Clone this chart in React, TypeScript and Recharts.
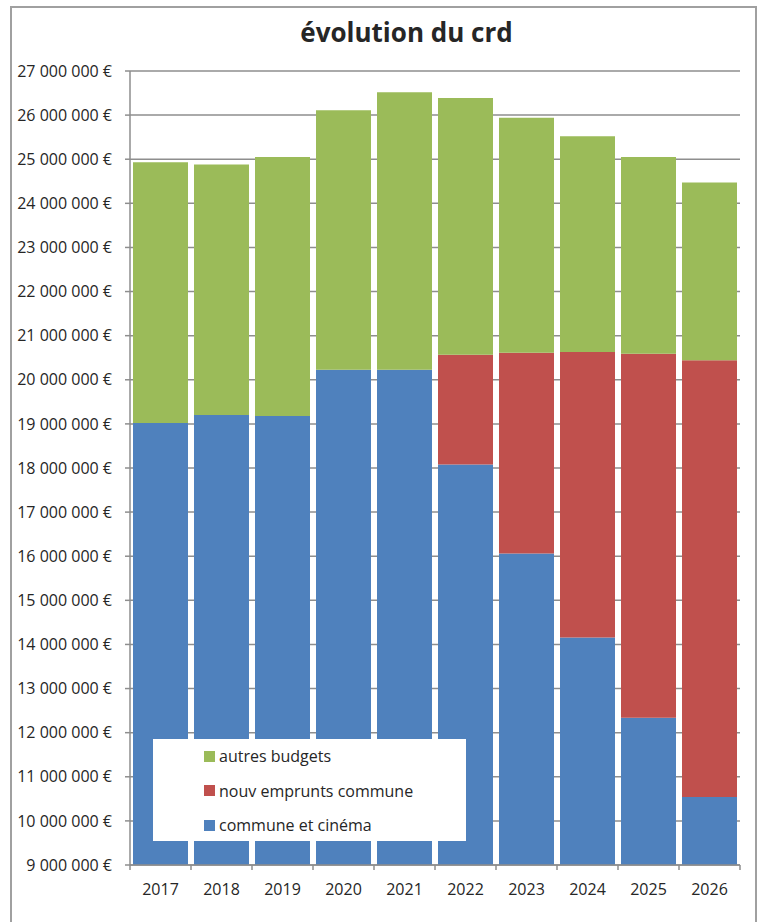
import { Bar, BarChart, CartesianGrid, Legend, XAxis, YAxis } from 'recharts'

// outstanding debt per year, stacked by budget (euros)
const years = ['2017', '2018', '2019', '2020', '2021', '2022', '2023', '2024', '2025', '2026']
const communeCinema = [19020000, 19200000, 19180000, 20230000, 20230000, 18080000, 16060000, 14160000, 12340000, 10540000]
const nouvEmprunts = [0, 0, 0, 0, 0, 2490000, 4550000, 6470000, 8250000, 9900000]
const autresBudgets = [5910000, 5680000, 5870000, 5880000, 6290000, 5820000, 5330000, 4890000, 4460000, 4030000]
const yTicks = [
	9000000, 10000000, 11000000, 12000000, 13000000, 14000000, 15000000, 16000000, 17000000,
	18000000, 19000000, 20000000, 21000000, 22000000, 23000000, 24000000, 25000000, 26000000, 27000000
]
// legend reads top-down from the last stacked series
const legendOrder = ['autres budgets', 'nouv emprunts commune', 'commune et cinéma']

const data = years.map((year, i) => ({
	year,
	commune: communeCinema[i],
	nouv: nouvEmprunts[i],
	autres: autresBudgets[i]
}))

const GRID = '#8e8e8e'
const TEXT = '#262626'
const FONT = '"Open Sans", sans-serif'

const euro = (v: number) => String(v).replace(/\B(?=(\d{3})+(?!\d))/g, ' ') + ' €'

function YearTick(props: any) {
	const { x, y, payload, index, width, visibleTicksCount } = props
	const band = width / visibleTicksCount
	return (
		<g>
			<line x1={x - band / 2} x2={x - band / 2} y1={y} y2={y + 5} stroke={GRID} strokeWidth={1.5} />
			{index === visibleTicksCount - 1 && (
				<line x1={x + band / 2} x2={x + band / 2} y1={y} y2={y + 5} stroke={GRID} strokeWidth={1.5} />
			)}
			<text x={x} y={y + 30} textAnchor='middle' fill={TEXT} fontSize={16} fontFamily={FONT}>
				{payload.value}
			</text>
		</g>
	)
}

function LegendBox({ payload }: any) {
	const items = legendOrder
		.map(name => (payload || []).find((p: any) => p.value === name))
		.filter(Boolean)
	return (
		<div style={{ width: '100%', height: '100%', background: '#fff', paddingLeft: 51, boxSizing: 'border-box' }}>
			{items.map((item: any) => (
				<div key={item.value} style={{ height: 34.5, display: 'flex', alignItems: 'center', marginTop: -1, marginBottom: 1 }}>
					<span style={{ width: 11, height: 11, background: item.color, marginRight: 4, display: 'inline-block' }} />
					<span style={{ fontFamily: FONT, fontSize: 16, color: TEXT }}>{item.value}</span>
				</div>
			))}
		</div>
	)
}

export default function App() {
	return (
		<div style={{ position: 'fixed', left: 0, top: 0, width: 761, height: 922, overflow: 'hidden', background: '#fff' }}>
			<div
				style={{
					position: 'absolute',
					left: 0,
					top: 15,
					width: 813,
					textAlign: 'center',
					fontFamily: FONT,
					fontWeight: 700,
					fontSize: 26,
					lineHeight: '34px',
					color: TEXT
				}}
			>
				évolution du crd
			</div>
			<BarChart
				width={761}
				height={922}
				data={data}
				margin={{ top: 71, right: 21, bottom: 0, left: 0 }}
				barCategoryGap={3}
				style={{ position: 'absolute', left: 0, top: 0 }}
			>
				<CartesianGrid vertical={false} stroke={GRID} strokeWidth={1.5} />
				<XAxis
					dataKey='year'
					height={57}
					axisLine={{ stroke: GRID, strokeWidth: 1.5 }}
					tickLine={false}
					tickSize={0}
					tickMargin={0}
					interval={0}
					tick={<YearTick />}
				/>
				<YAxis
					width={130}
					domain={[9000000, 27000000]}
					ticks={yTicks}
					allowDataOverflow
					tickFormatter={euro}
					axisLine={{ stroke: GRID, strokeWidth: 1.5 }}
					tickLine={{ stroke: GRID, strokeWidth: 1.5 }}
					tickSize={5}
					tickMargin={13}
					tick={{ fill: TEXT, fontSize: 16, fontFamily: FONT }}
				/>
				<Legend
					layout='vertical'
					align='center'
					verticalAlign='middle'
					wrapperStyle={{ left: 153, top: 740, width: 313, height: 102 }}
					content={<LegendBox />}
				/>
				<Bar dataKey='commune' name='commune et cinéma' stackId='crd' fill='#4F81BD' isAnimationActive={false} />
				<Bar dataKey='nouv' name='nouv emprunts commune' stackId='crd' fill='#C0504D' isAnimationActive={false} />
				<Bar dataKey='autres' name='autres budgets' stackId='crd' fill='#9BBB59' isAnimationActive={false} />
			</BarChart>
			{/* chart frame, open at the bottom */}
			<div
				style={{
					position: 'absolute',
					left: 10,
					top: 6,
					width: 743,
					height: 960,
					borderTop: '2px solid #a0a0a0',
					borderLeft: '2px solid #a0a0a0',
					borderRight: '2px solid #a0a0a0',
					pointerEvents: 'none',
					zIndex: 5
				}}
			/>
		</div>
	)
}
